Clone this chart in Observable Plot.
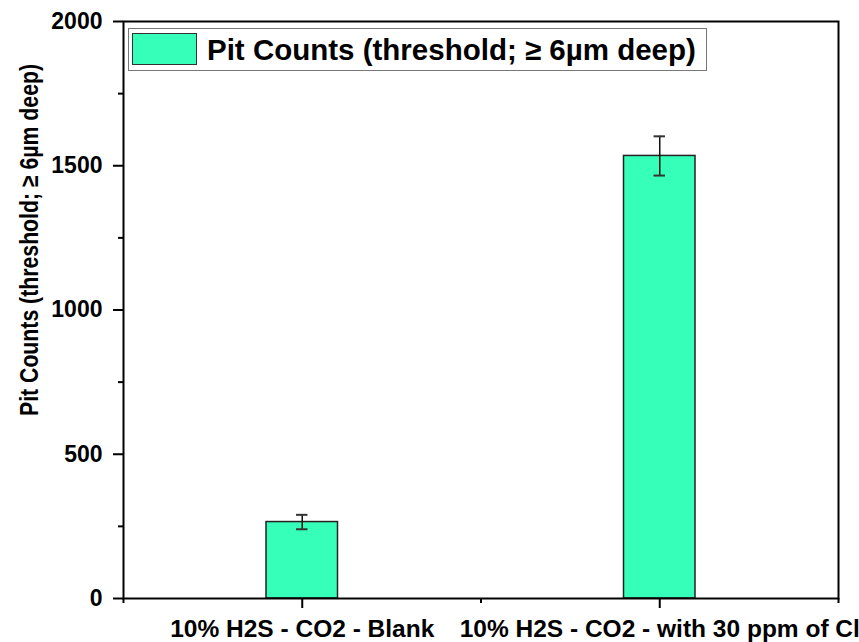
<!DOCTYPE html>
<html>
<head>
<meta charset="utf-8">
<script src="https://cdn.jsdelivr.net/npm/d3@7"></script>
<script src="https://cdn.jsdelivr.net/npm/@observablehq/plot@0.6"></script>
<style>
  html, body { margin: 0; padding: 0; background: #fff; }
  #wrap { position: relative; width: 859px; height: 642px; font-family: "Liberation Sans", Arial, sans-serif; }
  #legend { position: absolute; left: 128px; top: 28px; width: 577px; height: 41px; border: 1.5px solid #777; background: #fff; }
  #legend .sw { position: absolute; left: 3px; top: 4px; width: 63px; height: 30px; background: #36ffba; border: 1.5px solid #333; }
  #legend .tx { position: absolute; left: 78px; top: 0; line-height: 41px; font-size: 29.5px; font-weight: bold; color: #000; white-space: nowrap; }
</style>
</head>
<body>
<div id="wrap"></div>
<script>
// ---- data ----
const categories = ["10% H2S - CO2 - Blank", "10% H2S - CO2 - with 30 ppm of Cl"];
const positions = [1, 2];
const values = [265, 1534];
const errors = [25, 68];
const yMajorTicks = [0, 500, 1000, 1500, 2000];
const yMinorTicks = [250, 750, 1250, 1750];
const xMinorTicks = [0.5, 1.5, 2.5];
const seriesName = "Pit Counts (threshold; \u2265 6\u00b5m deep)";
const yTitle = "Pit Counts (threshold; \u2265 6\u00b5m deep)";

const rows = categories.map((c, i) => ({cat: c, pos: positions[i], value: values[i], err: errors[i]}));
const barHalf = 0.1;
const capHalf = 0.016;
const font = "Liberation Sans, Arial, sans-serif";

const chart = Plot.plot({
  width: 859,
  height: 642,
  marginTop: 21,
  marginRight: 21,
  marginBottom: 44,
  marginLeft: 123,
  style: {fontFamily: font, background: "#fff", color: "#000"},
  x: {type: "linear", domain: [0.5, 2.5]},
  y: {domain: [0, 2000]},
  marks: [
    Plot.rectY(rows, {x1: d => d.pos - barHalf, x2: d => d.pos + barHalf, y1: 0, y2: "value", fill: "#36ffba", stroke: "#222", strokeWidth: 1.5}),
    Plot.ruleX(rows, {x: "pos", y1: d => d.value - d.err, y2: d => d.value + d.err, stroke: "#111", strokeWidth: 1.5}),
    Plot.ruleY(rows, {y: d => d.value + d.err, x1: d => d.pos - capHalf, x2: d => d.pos + capHalf, stroke: "#333", strokeWidth: 2}),
    Plot.ruleY(rows, {y: d => d.value - d.err, x1: d => d.pos - capHalf, x2: d => d.pos + capHalf, stroke: "#333", strokeWidth: 2}),
    Plot.axisY({ticks: yMajorTicks, tickSize: 10, tickPadding: 11, strokeWidth: 2, fontSize: 23, fontWeight: "bold", label: null, tickFormat: d => String(d)}),
    Plot.axisY({ticks: yMinorTicks, tickSize: 5, strokeWidth: 2, tickFormat: () => "", label: null}),
    Plot.axisX({ticks: positions, tickSize: 10, tickPadding: 11, strokeWidth: 2, fontSize: 24.5, fontWeight: "bold", label: null, tickFormat: d => categories[positions.indexOf(d)]}),
    Plot.axisX({ticks: xMinorTicks, tickSize: 5, strokeWidth: 2, tickFormat: () => "", label: null}),
    Plot.frame({stroke: "#000", strokeWidth: 2}),
    Plot.text([yTitle], {text: d => d, frameAnchor: "left", rotate: -90, dx: -94, dy: -70, fontSize: 25, fontWeight: "bold", fill: "#000", textAnchor: "middle", lineAnchor: "middle"})
  ]
});

// condense the rotated title to the reference's length
d3.select(chart).selectAll("text").filter(function() { return this.textContent === yTitle; })
  .attr("textLength", 352).attr("lengthAdjust", "spacingAndGlyphs");

const wrap = document.getElementById("wrap");
wrap.appendChild(chart);
const lg = document.createElement("div");
lg.id = "legend";
lg.innerHTML = '<div class="sw"></div><div class="tx"></div>';
lg.querySelector(".tx").textContent = seriesName;
wrap.appendChild(lg);
</script>
</body>
</html>
